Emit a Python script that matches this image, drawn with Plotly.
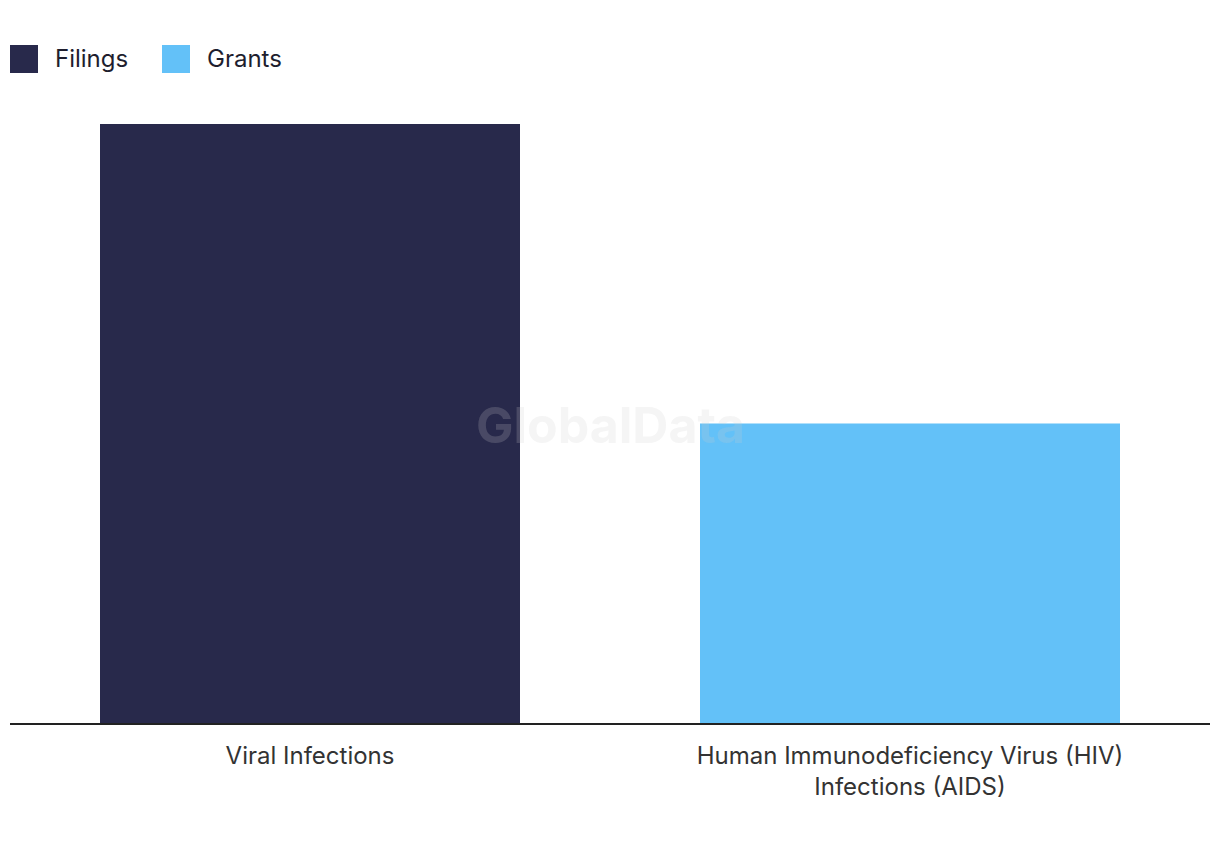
import plotly.graph_objects as go

categories = ["Viral Infections", "Human Immunodeficiency Virus (HIV)<br>Infections (AIDS)"]
series_names = ["Filings", "Grants"]
filings = [2, 0]
grants = [0, 1]
colors = ["#28294b", "#63c1f8"]

fig = go.Figure()
fig.add_trace(go.Bar(x=categories, y=filings, name=series_names[0], marker_color=colors[0],
                     marker_line_width=0, width=0.7, showlegend=False))
fig.add_trace(go.Bar(x=categories, y=grants, name=series_names[1], marker_color=colors[1],
                     marker_line_width=0, width=0.7, showlegend=False))

W, H = 1200, 599
shapes = []
annotations = []
legend_items = [(10, 53), (162, 205)]
for (sx, tx), name, col in zip(legend_items, series_names, colors):
    x0 = (sx - 10) / W
    x1 = (sx + 28 - 10) / W
    y0 = (723 - 73) / H
    y1 = (723 - 45) / H
    shapes.append(dict(type="rect", xref="paper", yref="paper", x0=x0, x1=x1, y0=y0, y1=y1,
                       fillcolor=col, line=dict(width=0)))
    annotations.append(dict(text=name, xref="paper", yref="paper", x=(tx - 10) / W, y=(723 - 58) / H,
                            xanchor="left", yanchor="middle", showarrow=False,
                            font=dict(size=24, color="#1e1e2e", family="Inter")))

annotations.append(dict(text="<b>GlobalData</b>", xref="paper", yref="paper", x=0.5, y=(723 - 425) / H,
                        xanchor="center", yanchor="middle", showarrow=False,
                        font=dict(size=50, color="rgba(205,205,205,0.2)", family="Inter")))

fig.update_layout(
    width=1220, height=850,
    margin=dict(l=10, r=10, t=124, b=127),
    barmode="overlay",
    plot_bgcolor="white", paper_bgcolor="white",
    shapes=shapes, annotations=annotations,
    font=dict(family="Inter", color="#333333"),
    xaxis=dict(showline=True, linecolor="#222222", linewidth=1.5, showgrid=False,
               tickfont=dict(size=24, color="#333333"), ticks="outside", ticklen=10,
               tickcolor="rgba(0,0,0,0)"),
    yaxis=dict(visible=False, range=[0, 2], showgrid=False),
)

fig.write_html("out.html")
